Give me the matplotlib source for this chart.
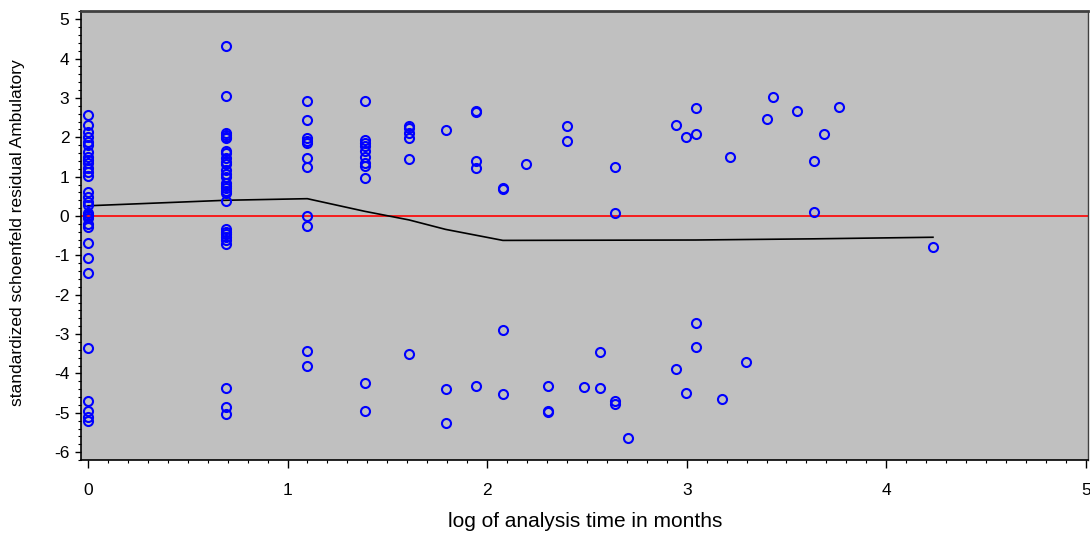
import matplotlib
matplotlib.use("Agg")
import matplotlib.pyplot as plt
from matplotlib.ticker import MultipleLocator

plt.rcParams['font.family'] = ['Liberation Sans', 'DejaVu Sans']

# log(analysis time in months) for each observation
x_vals = (
    [0.0] * 31
    + [0.693] * 29
    + [1.099] * 11
    + [1.386] * 11
    + [1.609] * 6
    + [1.792] * 3
    + [1.946] * 5
    + [2.079] * 4
    + [2.197]
    + [2.303] * 3
    + [2.398] * 2
    + [2.485]
    + [2.565] * 2
    + [2.639] * 4
    + [2.708]
    + [2.944] * 2
    + [2.996] * 2
    + [3.045] * 4
    + [3.178]
    + [3.219]
    + [3.296]
    + [3.401]
    + [3.434]
    + [3.555]
    + [3.638] * 2
    + [3.689]
    + [3.761]
    + [4.234]
)

# standardized Schoenfeld residuals for Ambulatory
resid_vals = (
    [2.57, 2.31, 2.14, 2.02, 1.89, 1.80, 1.63, 1.51, 1.42, 1.34, 1.21, 1.13, 1.02,
     0.62, 0.49, 0.36, 0.28, 0.07, 0.0, 0.03, -0.06, -0.20, -0.27, -0.69, -1.06,
     -1.46, -3.35, -4.71, -4.96, -5.12, -5.22]
    + [4.32, 3.04, 2.10, 2.06, 2.02, 1.97, 1.66, 1.59, 1.47, 1.38, 1.32, 1.17, 1.08,
       1.00, 0.83, 0.76, 0.70, 0.64, 0.58, 0.38, -0.33, -0.40, -0.47, -0.54, -0.61,
       -0.71, -4.36, -4.85, -5.02]
    + [2.93, 2.44, 1.97, 1.91, 1.85, 1.47, 1.25, 0.0, -0.25, -3.44, -3.81]
    + [2.93, 1.93, 1.86, 1.79, 1.66, 1.51, 1.34, 1.27, 0.96, -4.24, -4.96]
    + [2.29, 2.23, 2.12, 1.99, 1.46, -3.51]
    + [2.19, -4.40, -5.27]
    + [2.65, 2.67, 1.41, 1.23, -4.33]
    + [0.72, 0.69, -2.89, -4.53]
    + [1.32]
    + [-4.33, -4.95, -4.97]
    + [2.29, 1.91]
    + [-4.34]
    + [-3.45, -4.36]
    + [1.25, 0.07, -4.70, -4.78]
    + [-5.65]
    + [2.31, -3.90]
    + [2.02, -4.49]
    + [2.74, 2.08, -2.71, -3.33]
    + [-4.65]
    + [1.51]
    + [-3.72]
    + [2.46]
    + [3.03]
    + [2.68]
    + [1.40, 0.10]
    + [2.09]
    + [2.78]
    + [-0.78]
)

# smoothed (lowess) curve
smooth_x = [0.0, 0.693, 1.099, 1.386, 1.609, 1.792, 2.079, 3.045, 3.638, 4.234]
smooth_y = [0.26, 0.40, 0.44, 0.12, -0.10, -0.34, -0.62, -0.61, -0.58, -0.54]

x_ticks = [0, 1, 2, 3, 4, 5]
y_ticks = [-6, -5, -4, -3, -2, -1, 0, 1, 2, 3, 4, 5]
x_label = "log of analysis time in months"
y_label = "standardized schoenfeld residual Ambulatory"

fig = plt.figure(figsize=(10.9, 5.38), dpi=100)
ax = fig.add_axes([0.0743, 0.145, 0.9237, 0.8346])
ax.set_facecolor('#c0c0c0')

ax.axhline(0, color='red', linewidth=1.2, zorder=2)
ax.plot(smooth_x, smooth_y, color='black', linewidth=1.2, zorder=3)
ax.plot(x_vals, resid_vals, linestyle='none', marker='o', markersize=6.5,
        markerfacecolor='none', markeredgecolor='blue', markeredgewidth=1.5, zorder=4)

ax.set_xlim(-0.035, 5.01)
ax.set_ylim(-6.2, 5.21)
ax.set_xticks(x_ticks)
ax.set_yticks(y_ticks)
ax.set_xticklabels([str(v) for v in x_ticks])
ax.set_yticklabels([str(v) for v in y_ticks])
ax.xaxis.set_minor_locator(MultipleLocator(0.1))
ax.yaxis.set_minor_locator(MultipleLocator(0.2))

ax.tick_params(axis='x', which='major', direction='out', length=5.5, width=1.0,
               pad=11, labelsize=12.5)
ax.tick_params(axis='x', which='minor', direction='out', length=2.5, width=0.8)
ax.tick_params(axis='y', which='major', direction='out', length=4.3, width=1.0,
               pad=4, labelsize=12.5)
ax.tick_params(axis='y', which='minor', direction='out', length=2.2, width=0.8)

for side in ['left', 'bottom']:
    ax.spines[side].set_color('black')
    ax.spines[side].set_linewidth(1.2)
ax.spines['top'].set_color('#404040')
ax.spines['top'].set_linewidth(2.0)
ax.spines['right'].set_color('#404040')
ax.spines['right'].set_linewidth(1.0)

fig.text(0.537, 0.03, x_label, ha='center', va='center', fontsize=15)
fig.text(0.0165, 0.567, y_label, ha='center', va='center', rotation=90, fontsize=12.5)

fig.savefig('out.png', dpi=100, facecolor='white')
